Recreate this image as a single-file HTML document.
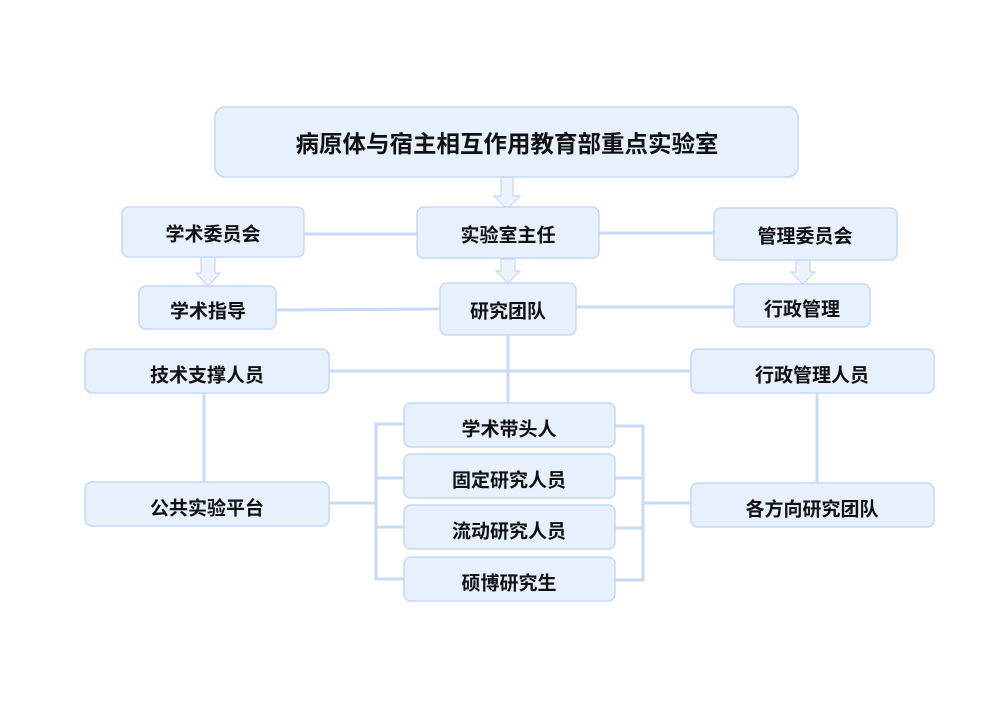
<!DOCTYPE html>
<html><head><meta charset="utf-8"><style>
html,body{margin:0;padding:0;background:#fff;}
svg{display:block;}
text{font-family:"Liberation Sans","Noto Sans CJK SC",sans-serif;font-weight:700;fill:#111;text-anchor:middle;dominant-baseline:central;}
.b{fill:#e7f0fd;stroke:#c4d8f6;stroke-width:1.5;}
.l{stroke:#c8daf7;stroke-width:3;fill:none;}
.a{fill:#edf3fd;stroke:#c4d8f6;stroke-width:1.2;}
</style></head><body>
<svg width="999" height="707" viewBox="0 0 999 707" xmlns="http://www.w3.org/2000/svg">
<rect width="999" height="707" fill="#fff"/>
<!-- connectors -->
<line class="l" x1="304" y1="234" x2="417" y2="234"/>
<line class="l" x1="599" y1="233" x2="714" y2="233"/>
<line class="l" x1="276" y1="310" x2="440" y2="309"/>
<line class="l" x1="576" y1="307" x2="734" y2="307"/>
<line class="l" x1="329" y1="371" x2="691" y2="371"/>
<line class="l" x1="508" y1="335" x2="508" y2="403"/>
<line class="l" x1="204" y1="393" x2="204" y2="482"/>
<line class="l" x1="817" y1="393" x2="817" y2="483"/>
<line class="l" x1="329" y1="503" x2="376" y2="503"/>
<polyline class="l" points="404,424 376,424 376,579 404,579"/>
<line class="l" x1="376" y1="478" x2="404" y2="478"/>
<line class="l" x1="376" y1="527" x2="404" y2="527"/>
<polyline class="l" points="615,426 643,426 643,580 615,580"/>
<line class="l" x1="615" y1="478" x2="643" y2="478"/>
<line class="l" x1="615" y1="528" x2="643" y2="528"/>
<line class="l" x1="643" y1="503" x2="691" y2="503"/>
<!-- block arrows -->
<polygon class="a" points="501,177 513,177 513,196 520,196 507,209 494,196 501,196"/>
<polygon class="a" points="201,257 215,257 215,273 220,273 208,286 196,273 201,273"/>
<polygon class="a" points="501,259 515,259 515,271 520,271 508,283 496,271 501,271"/>
<polygon class="a" points="796,260 810,260 810,272 815,272 803,284 791,272 796,272"/>
<!-- boxes -->
<rect class="b" x="215" y="107" width="583" height="70" rx="10"/>
<text x="507" y="144" style="font-size:23.5px">病原体与宿主相互作用教育部重点实验室</text>

<rect class="b" x="122" y="207" width="182" height="50" rx="7"/>
<text x="213" y="235" style="font-size:19px">学术委员会</text>
<rect class="b" x="417" y="207" width="182" height="51" rx="7"/>
<text x="508" y="236" style="font-size:19px">实验室主任</text>
<rect class="b" x="714" y="208" width="183" height="52" rx="7"/>
<text x="805" y="237" style="font-size:19px">管理委员会</text>

<rect class="b" x="139" y="286" width="137" height="43" rx="7"/>
<text x="208" y="312" style="font-size:19px">学术指导</text>
<rect class="b" x="440" y="283" width="136" height="52" rx="7"/>
<text x="508" y="312" style="font-size:19px">研究团队</text>
<rect class="b" x="734" y="284" width="136" height="43" rx="7"/>
<text x="802" y="310" style="font-size:19px">行政管理</text>

<rect class="b" x="85" y="349" width="244" height="44" rx="7"/>
<text x="207" y="376" style="font-size:19px">技术支撑人员</text>
<rect class="b" x="691" y="349" width="243" height="44" rx="7"/>
<text x="812" y="376" style="font-size:19px">行政管理人员</text>

<rect class="b" x="85" y="482" width="244" height="44" rx="7"/>
<text x="207" y="509" style="font-size:19px">公共实验平台</text>
<rect class="b" x="691" y="483" width="243" height="44" rx="7"/>
<text x="812" y="510" style="font-size:19px">各方向研究团队</text>

<rect class="b" x="404" y="403" width="211" height="44" rx="7"/>
<text x="509" y="430" style="font-size:19px">学术带头人</text>
<rect class="b" x="404" y="454" width="211" height="44" rx="7"/>
<text x="509" y="481" style="font-size:19px">固定研究人员</text>
<rect class="b" x="404" y="505" width="211" height="44" rx="7"/>
<text x="509" y="532" style="font-size:19px">流动研究人员</text>
<rect class="b" x="404" y="557" width="211" height="44" rx="7"/>
<text x="509" y="584" style="font-size:19px">硕博研究生</text>
</svg>
</body></html>
